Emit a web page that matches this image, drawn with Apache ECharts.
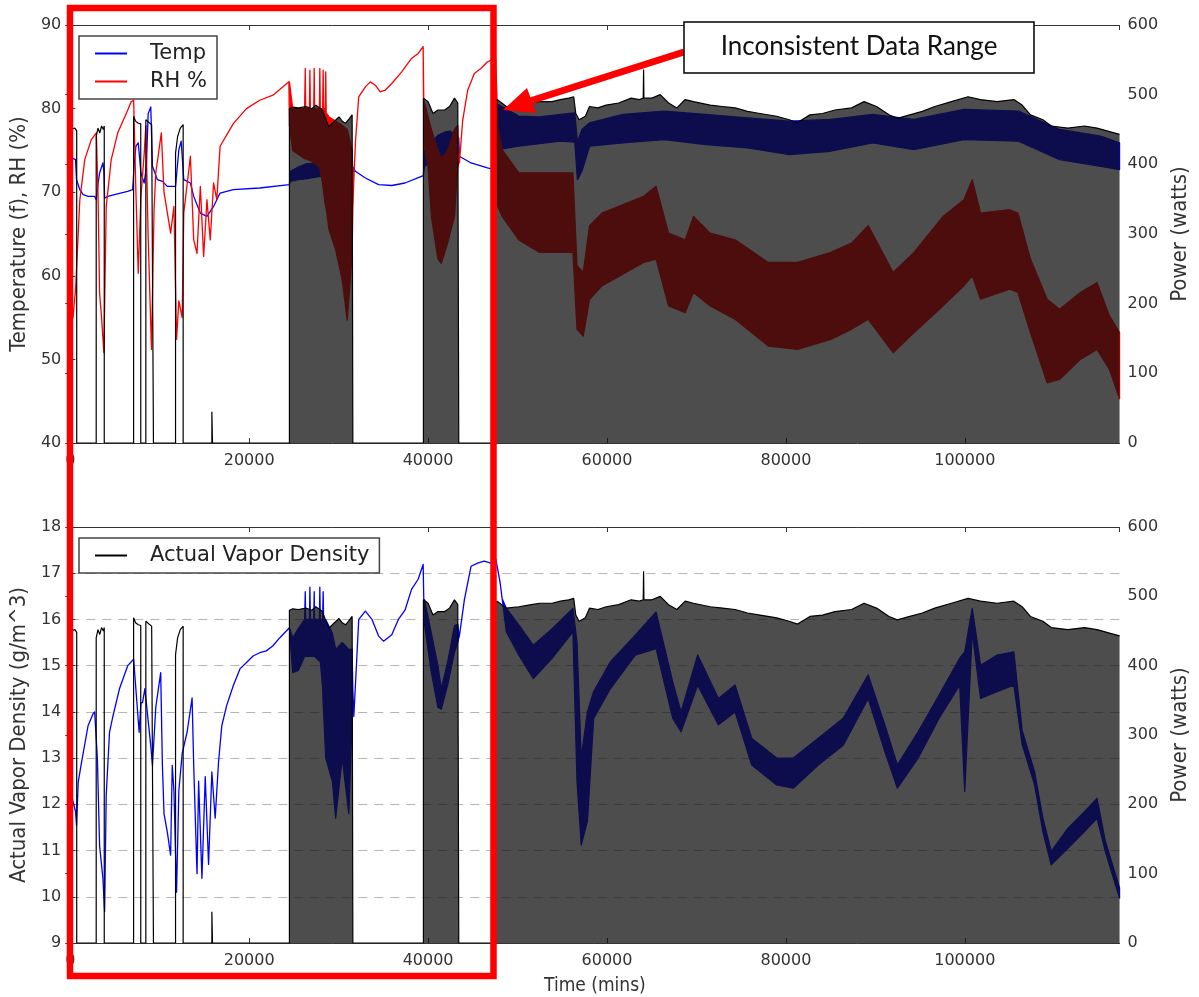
<!DOCTYPE html>
<html><head><meta charset="utf-8">
<script src="https://cdn.jsdelivr.net/npm/echarts@6/dist/echarts.min.js"></script>
<style>html,body{margin:0;padding:0;background:#fff}#c{width:1199px;height:997px}</style>
</head><body><div id="c"></div>
<script>
// ---------- axis ranges ----------
const timeRange = [0, 117300];
const tempRange = [40, 90];
const vaporRange = [9, 18];
const powerRange = [0, 600];

// ---------- power envelope (watts) [time, watts] ----------
const power = [
 [0,450],[520,452],[720,448],[720,0],
 [2900,0],[2900,440],[3100,452],[3300,445],[3500,455],[3700,450],[3800,455],[3800,0],
 [7080,0],[7080,469],[7300,462],[7600,459],[7880,458],[7880,0],
 [8450,0],[8450,464],[8800,460],[9100,457],[9300,457],[9300,0],
 [11770,0],[11770,416],[12000,440],[12300,452],[12620,457],[12620,0],
 [15830,0],[15830,45],[15900,45],[15900,0],
 [24500,0],[24500,480],[24870,482],[25500,481],[26350,483],[27000,480],[27450,485],[28190,478],[28560,465],[28900,454],[29300,459],[30040,468],[30400,462],[30780,459],[31150,465],[31510,471],[31590,471],[31590,0],
 [39480,0],[39480,495],[40000,490],[40550,473],[41100,478],[41850,478],[42400,483],[42950,495],[43320,488],[43430,488],[43430,0],
 [47450,0],[47450,490],[47724,493],[48747,483],[50142,485],[51537,488],[52467,490],[53862,490],[54792,493],[55722,495],[56280,497],[56513,473],[56885,464],[57582,469],[58047,483],[58977,481],[59907,485],[61302,488],[62697,495],[63627,493],[64050,495],[64092,536],[64130,495],[65022,495],[65952,500],[66882,488],[67812,481],[68742,493],[69672,490],[71532,485],[72927,483],[74322,481],[75717,476],[77112,473],[78972,469],[80367,464],[81297,460],[82692,471],[84087,473],[85482,478],[87342,481],[88737,490],[90132,483],[91527,471],[92457,466],[93852,471],[95247,476],[96642,483],[98502,490],[100362,497],[101757,493],[103617,490],[105477,493],[106407,485],[107337,471],[108732,464],[109662,455],[111522,452],[113382,455],[114777,452],[116172,447],[117300,443]
];
const denseRanges = [[24500,31590],[39480,43430],[47450,117300]];

// ---------- temperature (F) [time, low, high] ----------
const temp = [
 [0,74.2],[590,73.9],[700,71.5],[1070,70.3],[1440,69.7],[2000,69.5],[2730,69.5],[2915,69.1],[3100,71.0],[3280,72.3],[3650,73.5],[3760,72.5],[3840,69.3],[4200,69.5],[4950,69.7],[6420,70.1],[6970,70.3],[7160,73.5],[7340,75.5],[7600,75.9],[7900,72.3],[8260,71.1],[8500,73.0],[8710,79.4],[9000,80.2],[9190,73.1],[9740,71.5],[10300,71.3],[10850,70.7],[11770,70.7],[12140,75.1],[12400,76.1],[12690,71.5],[13430,71.1],[13800,69.5],[14540,67.5],[15280,67.1],[16020,68.3],[16750,69.9],[18230,70.3],[21180,70.5],[24500,70.9],
 [24600,71.3,72.5],[25500,71.5,73.0],[26350,71.6,73.4],[27450,71.8,73.5],[28560,72.0,73.4],[29300,72.0,73.2],[30400,72.2,73.3],[31150,72.3,73.1],[31590,72.5,73.0],
 [31880,72.5],[32990,71.7],[34470,70.9],[35940,70.8],[37420,71.1],[39260,71.9],[39480,72.0],
 [39600,73.1,75.0],[40370,73.5,76.0],[41100,74.0,76.8],[41850,74.2,77.2],[42400,74.3,77.3],[42950,74.5,77.0],[43430,74.5,76.5],
 [43500,74.3],[44800,73.5],[46640,72.9],[47450,72.7],
 [47500,74.5,79.0],[47800,75.1,80.5],[50140,75.5,79.1],[52470,75.8,79.0],[54790,76.1,79.3],[56400,76.0,79.5],[56700,71.5,76.0],[57200,72.5,77.5],[58050,75.5,78.3],[61770,75.9,79.3],[66400,76.3,79.7],[71000,75.7,79.3],[75700,75.3,78.9],[80400,74.5,78.5],[85000,74.9,78.7],[89700,75.9,79.3],[94300,75.1,78.7],[99900,76.3,79.9],[106000,76.1,79.7],[110600,73.9,77.5],[115200,73.1,76.7],[117300,72.7,75.9]
];

// ---------- relative humidity (%) [time, low, high] ----------
const rh = [
 [300,55.0],[590,58.3],[1070,69.1],[1620,73.9],[2360,76.3],[2915,77.1],[3100,70.0],[3280,57.9],[3500,55.0],[3760,50.8],[4020,68.3],[4580,73.9],[5310,77.1],[6420,79.8],[6790,80.8],[7085,81.0],[7340,70.0],[7600,60.3],[7900,69.5],[8270,74.7],[8450,78.0],[8700,65.0],[9080,51.2],[9370,68.0],[9560,72.3],[10180,77.1],[10480,70.0],[11220,65.1],[11590,68.3],[11880,52.4],[12140,57.0],[12510,55.0],[12690,67.5],[13430,74.3],[13800,64.3],[14170,62.7],[14540,70.7],[14910,62.3],[15280,69.1],[15650,64.3],[16020,71.1],[16380,69.1],[16750,75.5],[18230,78.2],[19700,80.0],[21180,81.0],[22660,81.6],[24440,83.2],
 [24500,78.0,83.2],[24870,75.0,80.0],[25500,74.5,80.0],[26200,74.0,80.0],[26270,74.0,84.8],[26320,74.0,80.0],[26740,73.8,80.0],[26790,73.8,84.6],[26840,73.8,80.0],[27220,73.5,80.0],[27270,73.5,84.8],[27320,73.5,80.0],[27850,73.0,80.0],[27900,73.0,84.8],[27950,72.5,80.0],[28220,71.0,80.0],[28270,70.5,84.6],[28320,70.0,80.0],[28510,68.5,80.0],[28560,68.3,84.4],[28610,68.0,79.5],[28930,65.5,79.0],[29670,63.1,78.5],[30400,59.5,78.0],[30960,54.7,77.5],[31510,62.7,75.0],[31590,68.0,72.0],
 [31700,71.5],[31880,76.0],[32250,81.4],[32990,82.6],[33540,83.2],[34100,82.8],[34650,82.0],[35200,82.2],[35940,83.0],[37050,84.4],[38150,86.0],[38890,86.6],[39450,87.4],
 [39520,76.0,81.0],[40000,73.0,79.0],[40370,67.1,77.5],[41100,62.0,75.0],[41480,61.5,74.0],[42210,64.0,75.0],[42950,67.1,77.5],[43320,73.0,78.0],[43430,73.5,74.0],
 [43500,73.5],[43870,78.6],[44430,82.2],[45170,84.2],[45900,84.8],[46640,85.6],[47560,86.0],
 [47800,68.3,77.9],[48280,67.1,75.1],[50140,64.3,72.3],[52470,62.8,72.3],[56190,62.8,72.3],[56650,53.6,61.2],[57350,52.8,60.4],[58050,57.2,66.0],[59440,58.8,67.5],[64090,61.6,69.5],[65490,62.0,70.7],[66880,56.4,65.1],[68740,55.6,64.3],[69670,58.0,67.1],[71530,56.4,65.1],[74320,54.8,64.3],[78040,51.6,61.6],[81300,51.2,61.6],[85020,52.4,62.8],[87340,53.6,63.9],[89200,54.8,66.0],[91990,50.8,60.4],[94320,53.2,62.8],[97570,56.4,67.1],[99900,58.8,69.1],[100830,60.0,71.5],[101760,57.2,67.5],[105010,58.4,67.9],[105940,58.0,67.5],[107340,53.2,62.0],[109200,47.2,57.2],[110590,47.6,56.0],[112920,50.0,58.0],[114780,51.2,59.2],[116170,48.8,55.2],[117300,45.3,53.2]
];

// ---------- actual vapor density (g/m^3) [time, low, high] ----------
const vapor = [
 [0,12.3],[590,11.84],[700,11.55],[890,12.48],[1255,12.9],[1990,13.7],[2550,13.96],[2730,14.0],[3030,13.0],[3280,11.1],[3650,10.4],[3840,9.68],[4020,12.2],[4390,13.56],[4760,13.9],[5500,14.5],[6420,15.0],[7085,15.14],[7700,13.56],[7900,14.2],[8080,14.2],[8340,14.5],[9000,13.27],[9190,12.84],[9560,14.1],[10110,14.85],[10300,12.84],[10480,11.8],[10850,11.4],[11220,10.9],[11400,12.84],[11590,12.3],[11880,10.1],[12140,12.3],[12510,13.1],[13060,13.56],[13620,14.3],[13800,12.84],[14170,10.5],[14350,12.5],[14720,10.4],[15090,12.6],[15460,10.7],[15830,12.7],[16200,11.7],[16570,12.9],[16940,13.7],[17490,14.14],[18230,14.57],[18970,14.93],[19700,15.07],[20440,15.21],[21180,15.28],[21920,15.32],[22660,15.43],[23400,15.6],[24500,15.82],
 [24870,14.85,15.6],[25500,14.9,15.8],[26200,15.2,16.0],[26270,15.2,16.6],[26320,15.2,16.0],[26740,15.2,16.0],[26790,15.2,16.7],[26840,15.2,16.0],[27220,15.2,16.0],[27270,15.2,16.6],[27320,15.2,16.0],[27850,15.1,16.0],[27900,15.1,16.7],[27950,15.1,16.0],[28220,14.5,16.0],[28270,14.2,16.6],[28320,14.0,16.0],[28560,13.0,16.0],[29300,12.5,15.7],[29670,11.7,15.35],[30400,13.0,15.5],[31140,11.8,15.35],[31510,13.9,15.35],[31590,14.5],
 [31700,13.9],[32250,16.0],[32990,16.18],[33730,16.0],[34470,15.64],[35020,15.53],[35940,15.67],[36680,16.0],[37420,16.2],[38150,16.65],[38890,16.87],[39450,17.19],[39520,16.43],
 [39600,15.9,16.43],[40370,14.85,15.7],[41100,14.1,15.0],[41480,14.06,14.5],[42210,14.6,15.1],[42950,15.29,15.86],[43320,15.5,15.9],[43430,15.6,15.7],
 [43500,15.64],[44060,16.43],[44800,17.15],[45540,17.22],[46270,17.26],[47010,17.22],[47580,17.3],[48050,16.8],[48280,16.45],
 [48750,15.73,16.24],[50140,15.23,15.88],[51770,14.72,15.44],[53860,15.16,15.8],[56190,15.73,16.24],[56650,12.5,15.5],[57120,11.12,13.0],[57810,11.63,14.0],[58510,13.86,14.44],[60370,14.5,15.08],[63160,15.23,15.66],[65490,15.37,16.16],[67350,13.86,14.65],[68280,13.57,14.0],[70140,14.58,15.23],[72460,13.72,14.29],[74320,14.0,14.58],[76180,12.85,13.43],[78970,12.42,13.0],[80830,12.35,13.0],[83620,12.85,13.43],[86410,13.28,13.86],[89200,14.29,14.8],[91060,13.14,13.72],[92460,12.35,12.85],[94780,13.0,13.57],[97110,13.86,14.36],[99430,14.58,15.16],[99990,12.28,15.3],[100830,15.73,16.24],[101760,14.29,15.01],[103620,14.44,15.23],[105480,14.58,15.3],[106410,13.3,13.6],[107800,12.42,12.7],[108730,11.41,11.7],[109660,10.69,10.98],[111520,11.05,11.48],[113380,11.41,11.84],[114780,11.7,12.13],[115710,10.98,11.2],[117300,9.97,10.19]
];

// ---------- styling ----------
const TICKFONT = 'DejaVu Sans';
const NAMEFONT = "'Liberation Sans Narrow', 'DejaVu Sans Condensed', 'DejaVu Sans', sans-serif";
const AXCOL = '#333';
const SHADE = 'rgba(18,18,18,0.75)';

const hiOf = d => (d.length > 2 ? d[2] : d[1]);
const inDense = x => denseRanges.some(r => x >= r[0] && x <= r[1]);
const powerFill = power.map(p => inDense(p[0]) ? p : [p[0], null]);

function band(name, arr, color, xi, yi) {
  return {
    name, type: 'custom', xAxisIndex: xi, yAxisIndex: yi, z: 2, silent: true,
    itemStyle: { color },
    data: arr.map(d => [d[0], d[1], hiOf(d)]),
    encode: { x: 0, y: [1, 2] },
    renderItem(params, api) {
      if (params.dataIndex !== 0) return null;
      const lo = arr.map(d => api.coord([d[0], d[1]]));
      const hi = arr.map(d => api.coord([d[0], hiOf(d)])).reverse();
      return { type: 'polygon', shape: { points: lo.concat(hi) },
        style: { fill: color, stroke: color, lineWidth: 1.3, lineJoin: 'round' } };
    }
  };
}
function powerSeries(xi, yi) {
  return [
    { name: 'powerFill' + xi, type: 'line', xAxisIndex: xi, yAxisIndex: yi, data: powerFill, symbol: 'none',
      connectNulls: false, lineStyle: { width: 0 }, areaStyle: { color: SHADE, opacity: 1 }, z: 3, silent: true },
    { name: 'power' + xi, type: 'line', xAxisIndex: xi, yAxisIndex: yi, data: power, symbol: 'none',
      lineStyle: { color: '#000', width: 1.2 }, z: 4, silent: true }
  ];
}
function xAx(g, pos, name) {
  return {
    gridIndex: g, type: 'value', min: timeRange[0], max: timeRange[1], interval: 20000, position: pos,
    name: name || '', nameLocation: 'middle', nameGap: 34,
    nameTextStyle: { fontFamily: NAMEFONT, fontSize: 19, color: AXCOL },
    axisLine: { show: true, onZero: false, lineStyle: { color: AXCOL, width: 1 } },
    axisTick: { show: true, inside: true, length: 5, lineStyle: { color: AXCOL } },
    axisLabel: { show: pos === 'bottom', color: AXCOL, fontFamily: TICKFONT, fontSize: 16, margin: 10,
      showMaxLabel: false, formatter: v => String(v) },
    splitLine: { show: false }
  };
}
function yAx(g, pos, rng, step, name, grid) {
  return {
    gridIndex: g, type: 'value', min: rng[0], max: rng[1], interval: step, position: pos,
    name, nameLocation: 'middle', nameRotate: 90, nameGap: pos === 'left' ? 37 : 45,
    nameTextStyle: { fontFamily: NAMEFONT, fontSize: 22, color: AXCOL },
    axisLine: { show: true, lineStyle: { color: AXCOL, width: 1 } },
    axisTick: { show: true, inside: true, length: 5, lineStyle: { color: AXCOL } },
    axisLabel: { color: AXCOL, fontFamily: TICKFONT, fontSize: 16, margin: pos === 'left' ? 9 : 8, formatter: v => String(v) },
    splitLine: { show: !!grid, lineStyle: { color: '#b5b5b5', type: [9, 7], width: 1 } }
  };
}
const legendBase = {
  orient: 'vertical', selectedMode: false, icon: 'rect', itemWidth: 32, itemHeight: 2, itemGap: 7,
  borderColor: '#444', borderWidth: 1.5, backgroundColor: '#fff', borderRadius: 0,
  padding: [7, 10, 7, 16],
  textStyle: { fontFamily: TICKFONT, fontSize: 21, color: '#222', padding: [0, 0, 0, 18] }
};

const option = {
  animation: false,
  backgroundColor: '#fff',
  grid: [
    { left: 69, right: 69, top: 25, height: 418, show: false },
    { left: 69, right: 69, top: 527, height: 418, show: false }
  ],
  xAxis: [xAx(0, 'bottom'), xAx(0, 'top'), xAx(1, 'bottom', 'Time (mins)'), xAx(1, 'top')],
  yAxis: [
    yAx(0, 'left', tempRange, 10, 'Temperature (f), RH (%)'),
    yAx(0, 'right', powerRange, 100, 'Power (watts)'),
    yAx(1, 'left', vaporRange, 1, 'Actual Vapor Density (g/m^3)', true),
    yAx(1, 'right', powerRange, 100, 'Power (watts)')
  ],
  legend: [
    Object.assign({}, legendBase, { left: 79, top: 36, data: ['Temp', 'RH %'] }),
    Object.assign({}, legendBase, { left: 79, top: 538, data: [{ name: 'Actual Vapor Density', itemStyle: { color: '#000' } }] })
  ],
  series: [
    band('Temp', temp, '#0000ff', 0, 0),
    band('RH %', rh, '#ff0000', 0, 0),
    ...powerSeries(0, 1),
    band('Actual Vapor Density', vapor, '#0000ff', 2, 2),
    ...powerSeries(2, 3)
  ],
  graphic: [
    { type: 'line', shape: { x1: 684, y1: 52, x2: 530, y2: 101 }, style: { stroke: '#ff0000', lineWidth: 7 }, z: 100 },
    { type: 'polygon', shape: { points: [[503, 110], [536, 113], [527, 88]] }, style: { fill: '#ff0000' }, z: 100 },
    { type: 'rect', shape: { x: 684, y: 22, width: 350, height: 51 }, style: { fill: '#fff', stroke: '#000', lineWidth: 1.5 }, z: 101 },
    { type: 'text', x: 859, y: 47, style: { text: 'Inconsistent Data Range', fontFamily: 'Lato', fontSize: 26, fill: '#111',
        align: 'center', verticalAlign: 'middle', textAlign: 'center', textVerticalAlign: 'middle' }, z: 102 },
    { type: 'rect', shape: { x: 70, y: 8, width: 423.5, height: 968 }, style: { fill: 'none', stroke: '#ff0000', lineWidth: 6.5 }, z: 103 }
  ]
};
const chart = echarts.init(document.getElementById('c'), null, { renderer: 'canvas' });
chart.setOption(option);
</script></body></html>
